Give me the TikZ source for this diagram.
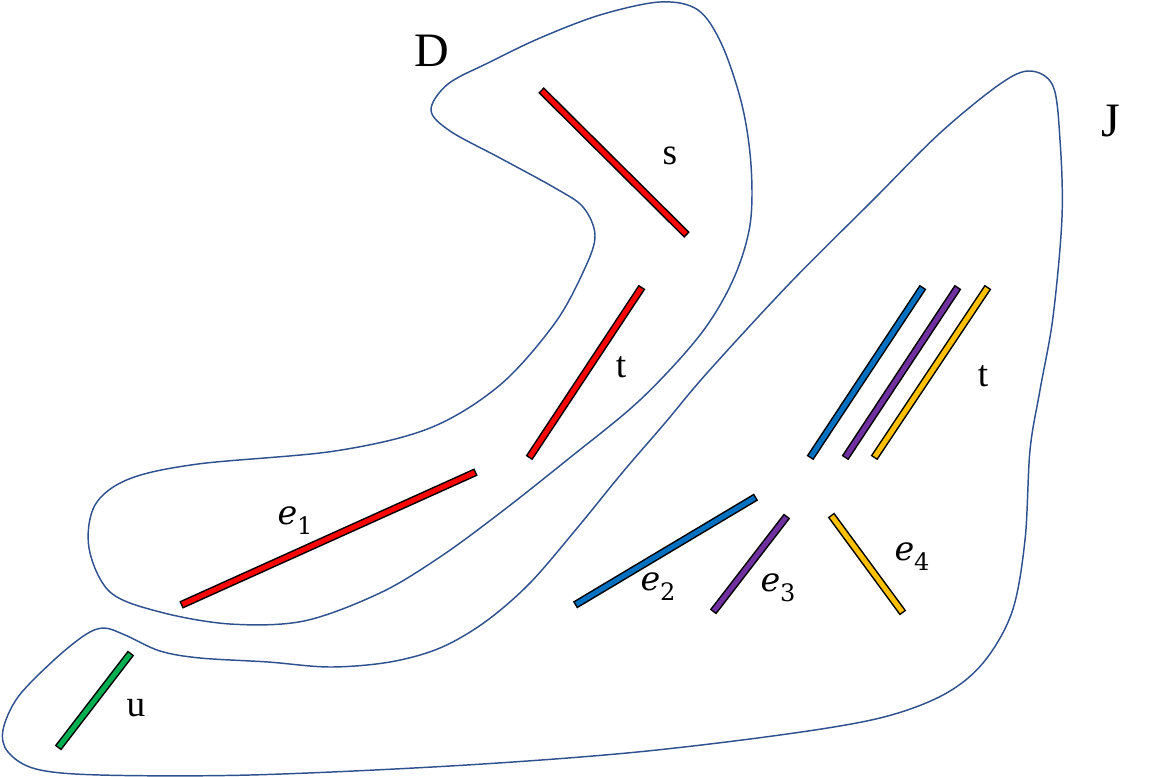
\documentclass[tikz,border=0pt]{standalone}
\usepackage{fontspec}
\setmainfont{Liberation Serif}
\newfontfamily\efont{DejaVu Serif}
\definecolor{curvecol}{HTML}{2F528F}
\definecolor{cred}{HTML}{FF0000}
\definecolor{cblue}{HTML}{0070C0}
\definecolor{cpurple}{HTML}{7030A0}
\definecolor{cyellow}{HTML}{FFC000}
\definecolor{cgreen}{HTML}{00B050}
\tikzset{
  region/.style={draw=curvecol, line width=1.1pt},
  barout/.style={draw=black, line width=6pt},
  barin/.style={line width=3.7pt, shorten <=1.1pt, shorten >=1.1pt},
  biglabel/.style={font=\fontsize{36}{36}\selectfont, inner sep=0pt},
  smalllabel/.style={font=\fontsize{28}{28}\selectfont, inner sep=0pt},
  elabel/.style={font=\efont\fontsize{25}{25}\selectfont, inner sep=0pt},
}
\newcommand\mybar[3]{\draw[barout] (#1) -- (#2); \draw[barin,draw=#3] (#1) -- (#2);}
\newcommand\esub[1]{{\itshape e}\raisebox{-0.3em}{\fontsize{18}{18}\selectfont #1}}
\begin{document}
\begin{tikzpicture}[x=0.75pt,y=-0.75pt]
\useasboundingbox (0,0) rectangle (1152,777);
% region D
\draw[region] plot[smooth cycle, tension=0.55] coordinates {
 (431,110) (448,84) (490,62) (540,38) (600,15) (660,2) (698,10) (722,45)
 (742,105) (751,165) (750,225) (733,280) (700,335) (640,400) (567,460)
 (500,513) (440,557) (380,593) (304,621) (230,624) (160,612) (110,592)
 (89,548) (95,505) (129,479) (198,464) (335,451) (430,428) (500,385)
 (555,323) (585,268) (595,235) (583,207) (555,188) (500,158) (450,131)};
% region J
\draw[region] plot[smooth cycle, tension=0.55] coordinates {
 (1030,71) (1053,86) (1060,140) (1062,217) (1053,317) (1040,390)
 (1030,450) (1025,540) (1012,612) (983,663) (943,695) (880,718)
 (780,735) (627,753) (450,766) (250,775) (100,775) (36,769) (8,752)
 (3,730) (18,697) (54,660) (85,635) (104,628) (125,635) (160,651)
 (200,658) (268,662) (330,667) (390,662) (440,648) (485,622) (530,583)
 (578,527) (622,473) (665,423) (707,373) (790,283) (873,200) (940,133)
 (1000,84)};
% segments
\coordinate (s1) at (541,90);  \coordinate (s2) at (687,235);
\coordinate (t1) at (642,287); \coordinate (t2) at (529,458);
\coordinate (a1) at (476,472); \coordinate (a2) at (181,605);
\coordinate (u1) at (131,653); \coordinate (u2) at (58,748);
\coordinate (b1) at (923,287); \coordinate (b2) at (810,458);
\coordinate (p1) at (958,287); \coordinate (p2) at (845,458);
\coordinate (y1) at (988,287); \coordinate (y2) at (874,458);
\coordinate (f1) at (756,497); \coordinate (f2) at (575,605);
\coordinate (g1) at (787,516); \coordinate (g2) at (713,612);
\coordinate (h1) at (831,515); \coordinate (h2) at (903,613);
\mybar{s1}{s2}{cred}
\mybar{t1}{t2}{cred}
\mybar{a1}{a2}{cred}
\mybar{u1}{u2}{cgreen}
\mybar{b1}{b2}{cblue}
\mybar{p1}{p2}{cpurple}
\mybar{y1}{y2}{cyellow}
\mybar{f1}{f2}{cblue}
\mybar{g1}{g2}{cpurple}
\mybar{h1}{h2}{cyellow}
% labels
\node[biglabel] (lD) at (432,51) {D};
\node[biglabel] (lJ) at (1111,121) {J};
\node[smalllabel] (ls) at (670,156) {s};
\node[smalllabel] (lt) at (621,367) {t};
\node[smalllabel] (lt2) at (983,376) {t};
\node[smalllabel] (lu) at (136,708) {u};
\node[elabel] (le1) at (295,521) {\esub{1}};
\node[elabel] (le2) at (658,587) {\esub{2}};
\node[elabel] (le3) at (778,588) {\esub{3}};
\node[elabel] (le4) at (912,557) {\esub{4}};
\end{tikzpicture}
\end{document}
